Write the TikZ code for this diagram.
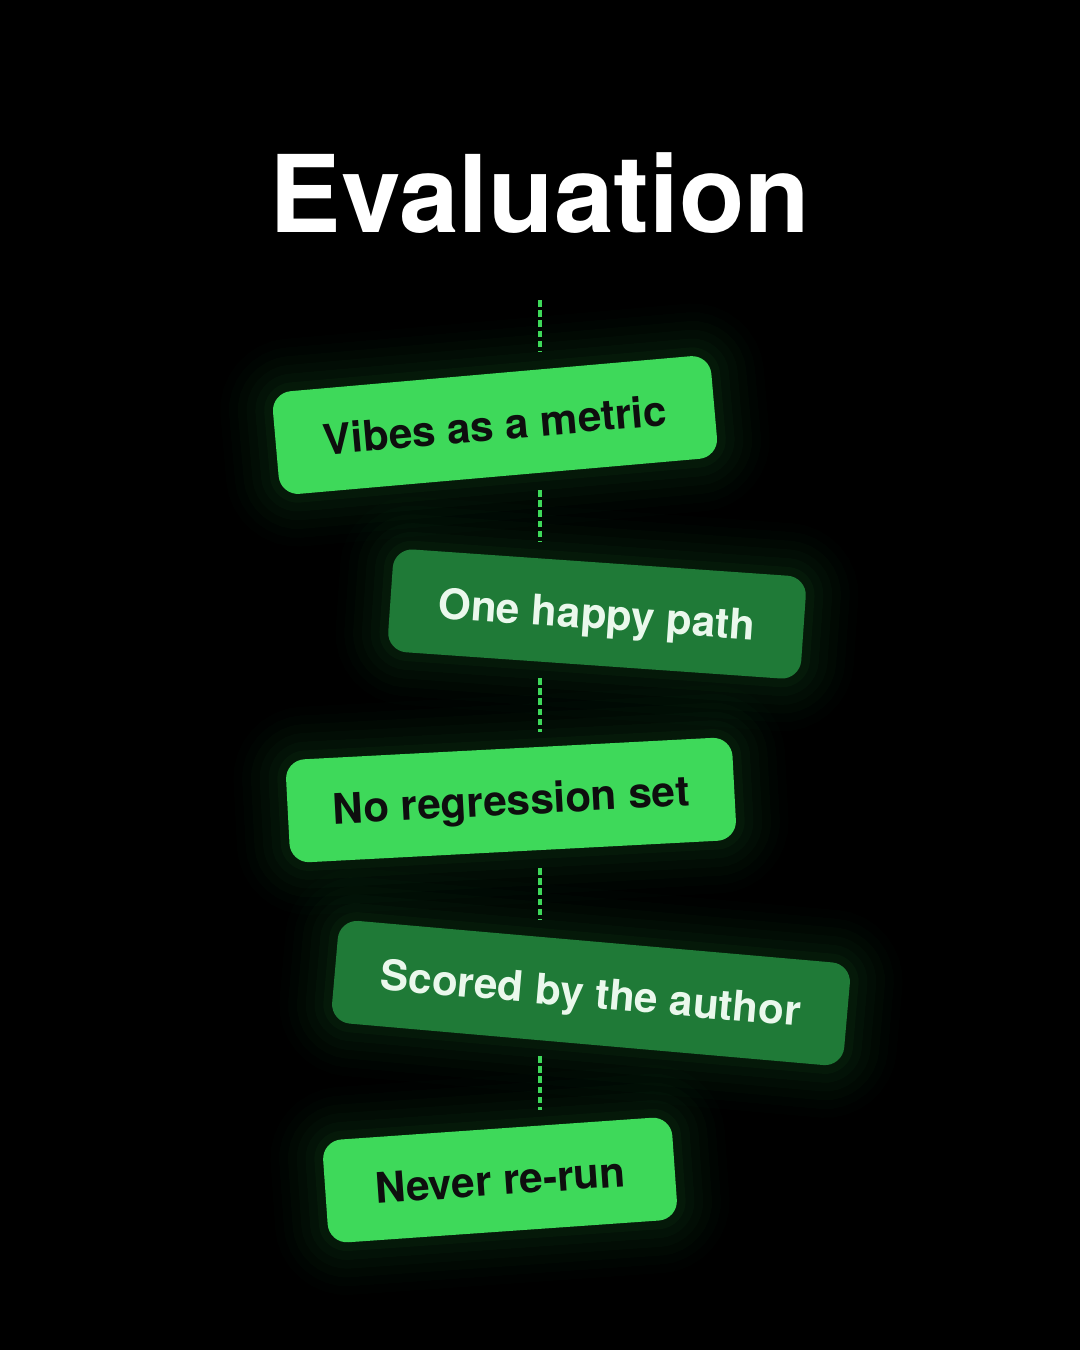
\documentclass[tikz,border=0pt]{standalone}
\usepackage{fontspec}
\setmainfont{TeX Gyre Heros}
\usepackage{tikz}
\usetikzlibrary{positioning}

\definecolor{lime}{HTML}{3ED95A}
\definecolor{forest}{HTML}{1F7A37}
\definecolor{ink}{HTML}{0E0E0E}
\definecolor{mint}{HTML}{EAF8EC}

\begin{document}
\begin{tikzpicture}[
        pill/.style={rectangle, rounded corners=5.5pt, inner sep=0pt, minimum height=1.03cm,
            text height=8.6pt, text depth=0pt, font=\fontsize{12}{14}\selectfont\bfseries,
            preaction={draw=lime, line width=30pt, draw opacity=0.012},
            preaction={draw=lime, line width=25pt, draw opacity=0.015},
            preaction={draw=lime, line width=20pt, draw opacity=0.018},
            preaction={draw=lime, line width=15pt, draw opacity=0.022},
            preaction={draw=lime, line width=10pt, draw opacity=0.027},
            preaction={draw=lime, line width=5pt, draw opacity=0.035}},
        light/.style={pill, fill=lime, text=ink},
        dark/.style={pill, fill=forest, text=mint},
        link/.style={draw=lime, line width=1pt, dash pattern=on 1.9pt off 1.0pt}]

        % Fundo
        \fill[black] (0,0) rectangle (10.8,-13.5);
        \useasboundingbox (0,0) rectangle (10.8,-13.5);

        % Titulo
        \node (title) [anchor=base, text=white, font=\fontsize{30.5}{36}\selectfont\bfseries] at (5.4,-2.32) {Evaluation};

        % Cartoes
        \node (vibes) [light, minimum width=4.40cm, rotate=5] at (4.95,-4.25) {Vibes as a metric};
        \node (happy) [dark, minimum width=4.14cm, rotate=-4] at (5.97,-6.14) {One happy path};
        \node (regress) [light, minimum width=4.47cm, rotate=3] at (5.11,-8.00) {No regression set};
        \node (author) [dark, minimum width=5.14cm, rotate=-5] at (5.91,-9.93) {Scored by the author};
        \node (rerun) [light, minimum width=3.50cm, rotate=4] at (5.00,-11.80) {Never re-run};

        % Tracejado central
        \coordinate (s1) at (5.4,-3.00);
        \coordinate (s2) at (5.4,-4.90);
        \coordinate (s3) at (5.4,-6.78);
        \coordinate (s4) at (5.4,-8.68);
        \coordinate (s5) at (5.4,-10.56);
        \draw[link] (s1) -- ++(0,-0.52);
        \draw[link] (s2) -- ++(0,-0.52);
        \draw[link] (s3) -- ++(0,-0.54);
        \draw[link] (s4) -- ++(0,-0.52);
        \draw[link] (s5) -- ++(0,-0.54);

    \end{tikzpicture}
\end{document}
